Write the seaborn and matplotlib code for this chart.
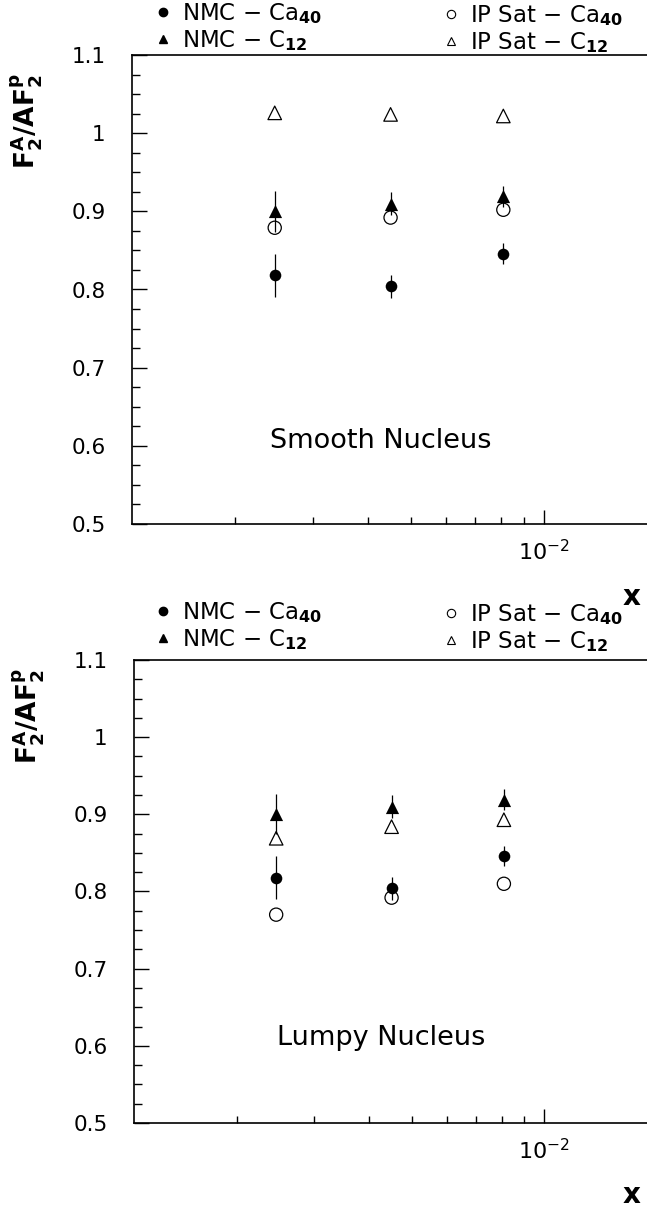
import numpy as np
import pandas as pd
import matplotlib
matplotlib.use("Agg")
import matplotlib.pyplot as plt
from matplotlib.lines import Line2D
from matplotlib.ticker import MultipleLocator, FormatStrFormatter, LogLocator, NullFormatter
import seaborn as sns

# ---------------- data ----------------
x_vals = [0.00246, 0.0045, 0.0081]
nmc_ca40 = [0.818, 0.804, 0.846]
nmc_ca40_err = [0.028, 0.015, 0.013]
nmc_c12 = [0.900, 0.910, 0.919]
nmc_c12_err = [0.026, 0.015, 0.014]
smooth_ipsat_ca40 = [0.879, 0.892, 0.902]
smooth_ipsat_c12 = [1.026, 1.024, 1.022]
lumpy_ipsat_ca40 = [0.770, 0.792, 0.810]
lumpy_ipsat_c12 = [0.869, 0.884, 0.893]
panel_titles = ["Smooth Nucleus", "Lumpy Nucleus"]
legend_labels = [r"NMC $-$ Ca$_{\mathbf{40}}$", r"NMC $-$ C$_{\mathbf{12}}$",
                 r"IP Sat $-$ Ca$_{\mathbf{40}}$", r"IP Sat $-$ C$_{\mathbf{12}}$"]

sns.set_theme(style="white")
plt.rcParams["font.family"] = ["DejaVu Sans"]
plt.rcParams["mathtext.fontset"] = "dejavusans"
plt.rcParams["text.color"] = "black"
plt.rcParams["axes.labelcolor"] = "black"
plt.rcParams["xtick.color"] = "black"
plt.rcParams["ytick.color"] = "black"

fig = plt.figure(figsize=(6.47, 12.07), dpi=100)
W, H = 647.0, 1207.0
# axes rectangles in pixel terms (left, top, right, bottom)
rects = [(132, 55, 650, 524), (134, 660, 650, 1123)]
xlim = (1.169e-3, 1.74e-2)

panels = [
    (smooth_ipsat_ca40, smooth_ipsat_c12),
    (lumpy_ipsat_ca40, lumpy_ipsat_c12),
]
legend_rows = [(14, 40), (613, 639)]

for i, ((l, t, r, b), (ip_ca, ip_c)) in enumerate(zip(rects, panels)):
    ax = fig.add_axes([l / W, 1 - b / H, (r - l) / W, (b - t) / H])
    ax.set_xscale("log")
    ax.set_xlim(*xlim)
    ax.set_ylim(0.5, 1.1)

    # error bars (NMC data)
    ax.errorbar(x_vals, nmc_c12, yerr=nmc_c12_err, fmt="none", ecolor="black",
                elinewidth=0.9, capsize=0, zorder=2)
    ax.errorbar(x_vals, nmc_ca40, yerr=nmc_ca40_err, fmt="none", ecolor="black",
                elinewidth=0.9, capsize=0, zorder=2)

    sns.scatterplot(x=x_vals, y=nmc_ca40, marker="o", s=70, color="black",
                    edgecolor="black", linewidth=0, ax=ax, zorder=3)
    sns.scatterplot(x=x_vals, y=nmc_c12, marker="^", s=90, color="black",
                    edgecolor="black", linewidth=0, ax=ax, zorder=3)
    sns.scatterplot(x=x_vals, y=ip_ca, marker="o", s=90, facecolor="none",
                    edgecolor="black", linewidth=0.9, ax=ax, zorder=3)
    sns.scatterplot(x=x_vals, y=ip_c, marker="^", s=95, facecolor="none",
                    edgecolor="black", linewidth=0.9, ax=ax, zorder=3)

    # spines / ticks
    for side in ["left", "bottom", "top"]:
        ax.spines[side].set_visible(True)
        ax.spines[side].set_color("black")
        ax.spines[side].set_linewidth(1.2)
    ax.spines["right"].set_visible(False)

    ax.yaxis.set_major_locator(MultipleLocator(0.1))
    ax.yaxis.set_minor_locator(MultipleLocator(0.025))
    ax.yaxis.set_major_formatter(FormatStrFormatter("%g"))
    ax.xaxis.set_major_locator(LogLocator(base=10))
    ax.xaxis.set_minor_locator(LogLocator(base=10, subs=np.arange(2, 10)))
    ax.xaxis.set_minor_formatter(NullFormatter())

    ax.tick_params(axis="y", which="major", direction="in", length=11, width=1,
                   left=True, right=False, pad=19, labelsize=15.5, colors="black")
    ax.tick_params(axis="y", which="minor", direction="in", length=6, width=1,
                   left=True, right=False)
    ax.tick_params(axis="x", which="major", direction="in", length=10, width=1,
                   bottom=True, top=False, pad=11, labelsize=16, colors="black")
    ax.tick_params(axis="x", which="minor", direction="in", length=5, width=1,
                   bottom=True, top=False)

    # labels
    ax.set_ylabel(r"$\mathbf{F_2^A/AF_2^p}$", fontsize=19, color="black")
    ax.yaxis.set_label_coords(-0.17, 0.86 if i == 0 else 0.88)
    ax.set_xlabel("x", fontsize=20, fontweight="bold", color="black")
    ax.xaxis.set_label_coords(0.965, -0.125)

    ax.text(0.48, 0.177 if i == 0 else 0.184, panel_titles[i], transform=ax.transAxes,
            ha="center", va="center", fontsize=19.5, color="black")

    # legends above the axes
    ry1, ry2 = legend_rows[i]
    h_left = [Line2D([], [], marker="o", ls="", color="black", markersize=6),
              Line2D([], [], marker="^", ls="", color="black", markersize=6)]
    h_right = [Line2D([], [], marker="o", ls="", markerfacecolor="none",
                      markeredgecolor="black", markersize=6, markeredgewidth=0.8),
               Line2D([], [], marker="^", ls="", markerfacecolor="none",
                      markeredgecolor="black", markersize=6, markeredgewidth=0.8)]
    fig.legend(handles=h_left, labels=legend_labels[:2], loc="center left",
               bbox_to_anchor=(152 / W, 1 - (ry1 + ry2) / 2 / H),
               frameon=False, fontsize=16.5, handlelength=1.0, handletextpad=0.3,
               labelspacing=0.1, borderpad=0, borderaxespad=0)
    fig.legend(handles=h_right, labels=legend_labels[2:], loc="center left",
               bbox_to_anchor=(440 / W, 1 - (ry1 + ry2 + 4) / 2 / H),
               frameon=False, fontsize=16.5, handlelength=1.0, handletextpad=0.3,
               labelspacing=0.1, borderpad=0, borderaxespad=0)

fig.savefig("out.png", dpi=100, facecolor="white")
